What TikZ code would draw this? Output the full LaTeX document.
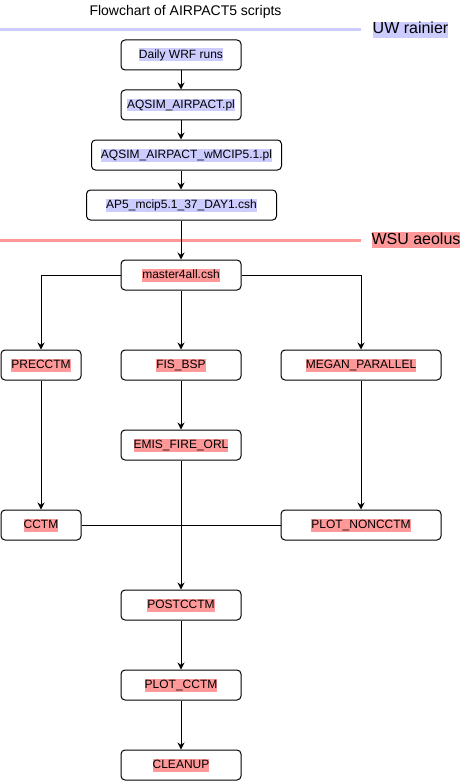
\documentclass[tikz,border=0pt]{standalone}
\usepackage{fontspec}
\setmainfont{Liberation Sans}
\usetikzlibrary{arrows.meta}
\definecolor{uw}{HTML}{CCCCFF}
\definecolor{wsu}{HTML}{FF9999}
\newcommand\hlu[1]{{\setlength\fboxsep{0pt}\colorbox{uw}{\rule[-3pt]{0pt}{13pt}#1}}}
\newcommand\hlw[1]{{\setlength\fboxsep{0pt}\colorbox{wsu}{\rule[-3pt]{0pt}{13pt}#1}}}
\newcommand\hlU[1]{{\setlength\fboxsep{0pt}\colorbox{uw}{\rule[-4pt]{0pt}{16pt}#1}}}
\newcommand\hlW[1]{{\setlength\fboxsep{0pt}\colorbox{wsu}{\rule[-4pt]{0pt}{16pt}#1}}}
\begin{document}
\begin{tikzpicture}[x=1pt,y=-1pt,
  box/.style={draw, rounded corners=4pt, line width=1pt, font=\fontsize{12}{14}\selectfont, inner sep=0pt, minimum height=30pt, minimum width=120pt, anchor=center},
  ar/.style={-{Stealth[length=7pt,width=7pt]}, line width=1pt},
  ln/.style={line width=1pt},
  sep/.style={line width=3pt},
  lbl/.style={font=\fontsize{16}{18}\selectfont, inner sep=0pt}]
\useasboundingbox (0,0) rectangle (469,781);
\node[font=\fontsize{14}{16}\selectfont, inner sep=0pt] (title) at (185.5,12) {Flowchart of AIRPACT5 scripts};
\coordinate (uwa) at (0,30); \coordinate (uwb) at (361,30);
\draw[sep, uw] (uwa) -- (uwb);
\node[lbl] (uwl) at (410.5,30) {\hlU{UW rainier}};
\coordinate (wsa) at (0,240); \coordinate (wsb) at (361,240);
\draw[sep, wsu] (wsa) -- (wsb);
\node[lbl] (wsl) at (416,240) {\hlW{WSU aeolus}};

\node[box] (wrf) at (181,55) {\hlu{Daily WRF runs}};
\node[box] (aq) at (181,105) {\hlu{AQSIM\_AIRPACT.pl}};
\node[box, minimum width=190pt] (aqw) at (186.5,155) {\hlu{AQSIM\_AIRPACT\_wMCIP5.1.pl}};
\node[box, minimum width=190pt] (ap5) at (181.5,205) {\hlu{AP5\_mcip5.1\_37\_DAY1.csh}};
\node[box] (m) at (181,275) {\hlw{master4all.csh}};
\node[box, minimum width=80pt] (pre) at (41,365) {\hlw{PRECCTM}};
\node[box] (fis) at (181,365) {\hlw{FIS\_BSP}};
\node[box, minimum width=160pt] (meg) at (361,365) {\hlw{MEGAN\_PARALLEL}};
\node[box] (emis) at (181,445) {\hlw{EMIS\_FIRE\_ORL}};
\node[box, minimum width=80pt] (cctm) at (41,525) {\hlw{CCTM}};
\node[box, minimum width=160pt] (pnc) at (361,525) {\hlw{PLOT\_NONCCTM}};
\node[box] (post) at (181,605) {\hlw{POSTCCTM}};
\node[box] (pc) at (181,685) {\hlw{PLOT\_CCTM}};
\node[box] (cl) at (181,765) {\hlw{CLEANUP}};

\draw[ar] (wrf) -- (aq);
\draw[ar] (aq.south) -- (aq.south |- aqw.north);
\draw[ar] (aqw.south -| aq.south) -- (aq.south |- ap5.north);
\draw[ar] (aq.south |- ap5.south) -- (m.north);
\draw[ar] (m.west) -| (pre.north);
\draw[ar] (m.east) -| (meg.north);
\draw[ar] (m) -- (fis);
\draw[ar] (fis) -- (emis);
\draw[ar] (pre) -- (cctm);
\draw[ar] (meg) -- (pnc);
\draw[ln] (cctm.east) -- (pnc.west);
\draw[ar] (emis) -- (post);
\draw[ar] (post) -- (pc);
\draw[ar] (pc) -- (cl);
\end{tikzpicture}
\end{document}
